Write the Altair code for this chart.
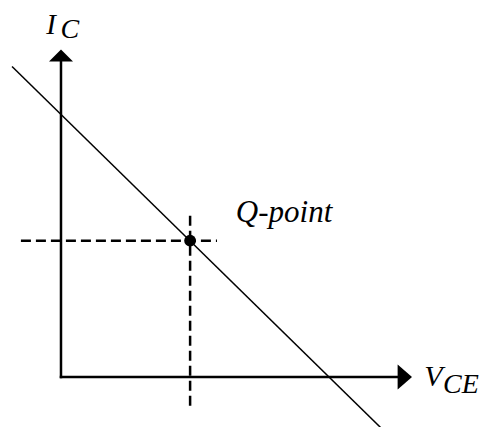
import altair as alt
import pandas as pd

# ---- data (conceptual units: V_CE horizontal, I_C vertical) ----
load_x = [-1.82, 12.1]           # load line end points
load_y = [11.85, -2.15]
q_v = [4.8]                      # Q-point
q_i = [5.2]
hdash_x = [-1.49, 5.8]           # horizontal dashed guide
vdash_y = [6.15, -1.22]          # vertical dashed guide
yaxis_top = 12.5                 # axis arrow tips
xaxis_end = 13.05

labels = ["I", "C", "V", "CE", "Q-point"]
label_x = [-0.55, -0.02, 13.5, 14.2, 6.5]
label_y = [13.1, 12.92, -0.36, -0.62, 5.9]
label_size = [29, 28, 30, 28, 31]

xs = alt.Scale(domain=[-1.97, 15.54], nice=False, zero=False)
ys = alt.Scale(domain=[-1.91, 14.08], nice=False, zero=False)

def X(f, **k):
    return alt.X(f, type="quantitative", scale=xs, axis=None, **k)

def Y(f, **k):
    return alt.Y(f, type="quantitative", scale=ys, axis=None, **k)

axes_df = pd.DataFrame({
    "x": [0, 0], "y": [0, 0],
    "x2": [0, xaxis_end - 0.3], "y2": [yaxis_top - 0.3, 0],
})
axes = alt.Chart(axes_df).mark_rule(color="black", strokeWidth=2.5, strokeCap="square").encode(
    x=X("x"), y=Y("y"), x2="x2", y2="y2")

load_df = pd.DataFrame({"x": [load_x[0]], "y": [load_y[0]], "x2": [load_x[1]], "y2": [load_y[1]]})
load = alt.Chart(load_df).mark_rule(color="black", strokeWidth=1.5).encode(
    x=X("x"), y=Y("y"), x2="x2", y2="y2")

dash_df = pd.DataFrame({
    "x": [hdash_x[0], q_v[0]], "y": [q_i[0], vdash_y[0]],
    "x2": [hdash_x[1], q_v[0]], "y2": [q_i[0], vdash_y[1]],
})
dash = alt.Chart(dash_df).mark_rule(color="black", strokeWidth=2.5, strokeDash=[10, 5]).encode(
    x=X("x"), y=Y("y"), x2="x2", y2="y2")

qdf = pd.DataFrame({"v": q_v, "i": q_i})
qpt = alt.Chart(qdf).mark_circle(color="black", opacity=1, size=140).encode(
    x=X("v"), y=Y("i"))

arrow_up = pd.DataFrame({"x": [0], "y": [yaxis_top]})
up = alt.Chart(arrow_up).mark_point(
    shape="M -1 1 L 1 1 L 0 0 Z", filled=True, color="black", opacity=1, size=576, strokeWidth=0
).encode(x=X("x"), y=Y("y"))

arrow_right = pd.DataFrame({"x": [xaxis_end], "y": [0]})
right = alt.Chart(arrow_right).mark_point(
    shape="M -1.15 -1 L -1.15 1 L 0 0 Z", filled=True, color="black", opacity=1, size=625, strokeWidth=0
).encode(x=X("x"), y=Y("y"))

lab_df = pd.DataFrame({"t": labels, "x": label_x, "y": label_y, "s": label_size})
texts = alt.Chart(lab_df).mark_text(
    font="'Times New Roman', 'Liberation Serif', serif", fontStyle="italic",
    align="left", baseline="alphabetic", color="black"
).encode(
    x=X("x"), y=Y("y"), text="t:N",
    size=alt.Size("s:Q", scale=None, legend=None),
)

chart = alt.layer(axes, load, dash, qpt, up, right, texts).properties(
    width=471, height=419, padding=0, autosize=alt.AutoSizeParams(type="none"),
    background="white",
).configure_view(stroke=None)

chart.save("out.html", embed_options={"renderer": "svg", "actions": False})
